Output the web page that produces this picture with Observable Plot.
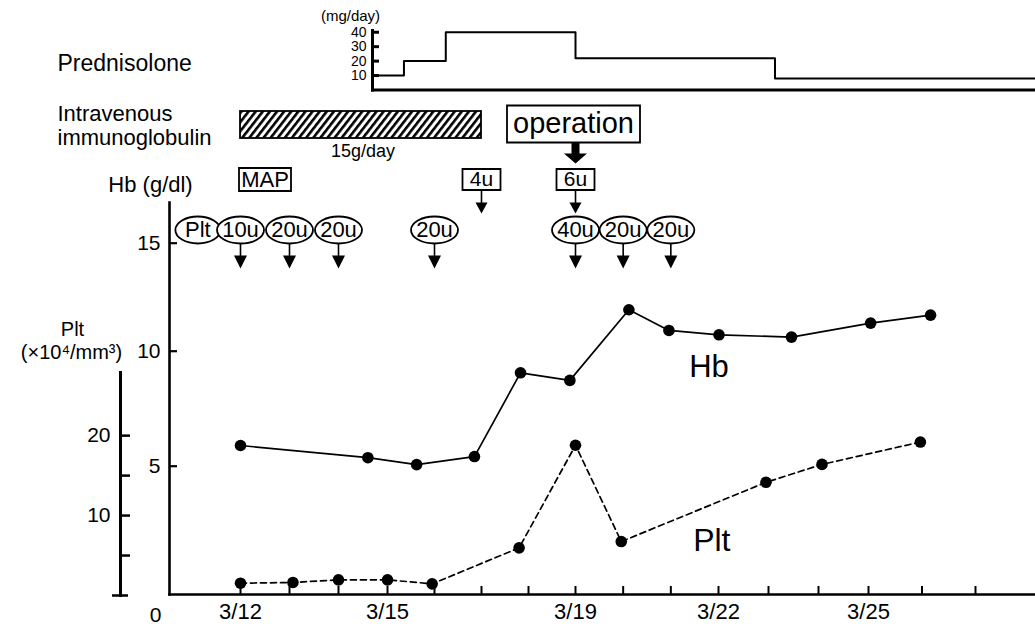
<!DOCTYPE html>
<html>
<head>
<meta charset="utf-8">
<script src="https://cdn.jsdelivr.net/npm/d3@7"></script>
<script src="https://cdn.jsdelivr.net/npm/@observablehq/plot@0.6"></script>
<style>
  body { margin: 0; background: #fff; }
  #fig { position: relative; width: 1035px; height: 626px; background: #fff; overflow: hidden; }
  #fig > svg { position: absolute; left: 0; top: 0; }
</style>
</head>
<body>
<div id="fig"></div>
<script>
// ---------------- data ----------------
const dayTicks = [12, 13, 14, 15, 16, 17, 18, 19, 20, 21, 22, 23, 24, 25, 26, 27];
const dayLabels = [12, 15, 19, 22, 25];

const hbDay   = [12, 14.6, 15.62, 16.85, 17.83, 18.88, 20.12, 20.96, 22.01, 23.46, 25.04, 26.16];
const hbValue = [5.9, 5.37, 5.07, 5.42, 9.06, 8.73, 11.92, 10.96, 10.76, 10.65, 11.3, 11.67];

const pltDay   = [12, 13.07, 14, 15, 15.95, 17.8, 19, 19.96, 22.95, 24.07, 25.97];
const pltValue = [1.54, 1.63, 1.96, 1.96, 1.46, 5.96, 18.8, 6.75, 14.16, 16.4, 19.2];

const predStart = [14.69, 15.35, 16.24, 19.0, 23.13];
const predDose  = [10, 20, 40, 22, 8];
const predEnd   = 28.2;

const ivigStart = 12, ivigEnd = 17, ivigLabel = "15g/day";
const operationDay = 19;
const rbcDay   = [17, 19];
const rbcUnits = ["4u", "6u"];
const pltTxDay   = [12, 13, 14, 16, 19, 20, 21];
const pltTxUnits = ["10u", "20u", "20u", "20u", "40u", "20u", "20u"];

const hbTicks = [5, 10, 15];
const pltTicks = [5, 10, 15, 20];
const predTicks = [10, 20, 30, 40];

// ---------------- helpers ----------------
const W = 1035, H = 626;
const FONT = "'Liberation Sans', Arial, Helvetica, sans-serif";
const xScale = {type: "linear", domain: [12, 15, 19, 22, 25, 27], range: [240, 387, 575, 718, 868, 975]};
const style = {fontFamily: FONT, background: "transparent", overflow: "visible", color: "black"};
const fig = document.getElementById("fig");

function boxSym(w, h) {
  return {draw(ctx) {
    ctx.moveTo(-w / 2, -h / 2); ctx.lineTo(w / 2, -h / 2);
    ctx.lineTo(w / 2, h / 2); ctx.lineTo(-w / 2, h / 2); ctx.closePath();
  }};
}
function ellipseSym(rx, ry) {
  const k = 0.5523;
  return {draw(ctx) {
    ctx.moveTo(rx, 0);
    ctx.bezierCurveTo(rx, ry * k, rx * k, ry, 0, ry);
    ctx.bezierCurveTo(-rx * k, ry, -rx, ry * k, -rx, 0);
    ctx.bezierCurveTo(-rx, -ry * k, -rx * k, -ry, 0, -ry);
    ctx.bezierCurveTo(rx * k, -ry, rx, -ry * k, rx, 0);
    ctx.closePath();
  }};
}
function arrowSym(stemW, stemL, headW, headL) {
  return {draw(ctx) {
    ctx.moveTo(-stemW / 2, 0); ctx.lineTo(stemW / 2, 0);
    ctx.lineTo(stemW / 2, stemL); ctx.lineTo(headW / 2, stemL);
    ctx.lineTo(0, stemL + headL); ctx.lineTo(-headW / 2, stemL);
    ctx.lineTo(-stemW / 2, stemL); ctx.closePath();
  }};
}
function panel(opts, marks, xAxisNull = true) {
  const svg = Plot.plot({
    width: W, height: H, marginLeft: 0, marginRight: 0,
    ...opts,
    x: {...xScale, ...(xAxisNull ? {axis: null} : {})},
    style, marks
  });
  fig.appendChild(svg);
  return svg;
}
// a free-standing label placed relative to a frame corner
function label(str, frameAnchor, dx, dy, fontSize, textAnchor = "middle") {
  return Plot.text([str], {text: d => d, frameAnchor, dx, dy, fontSize, textAnchor, lineAnchor: "middle"});
}

// ---------------- Prednisolone panel ----------------
const predData = predStart.map((d, i) => ({day: d, dose: predDose[i]}))
  .concat([{day: predEnd, dose: predDose[predDose.length - 1]}]);
panel({marginLeft: 372, marginTop: 30, marginBottom: H - 89.5, y: {domain: [0, 41.2], axis: null}}, [
  Plot.frame({anchor: "left", strokeWidth: 3}),
  Plot.frame({anchor: "bottom", strokeWidth: 3}),
  Plot.axisY({ticks: predTicks, tickSize: 7, dx: 7, tickPadding: 6, fontSize: 14, strokeWidth: 3, label: null}),
  Plot.line(predData, {x: "day", y: "dose", curve: "step-after", strokeWidth: 2}),
  label("(mg/day)", "top-left", -22, -14, 15),
  label("Prednisolone", "left", 57 - 372, 3, 23, "start")
]);

// ---------------- IVIG panel ----------------
const ivigSvg = panel({marginLeft: 57, marginTop: 111, marginBottom: H - 138}, [
  Plot.rect([{start: ivigStart, end: ivigEnd}], {x1: "start", x2: "end", fill: "url(#ivigHatch)", stroke: "black", strokeWidth: 1.8}),
  Plot.text([ivigLabel], {text: d => d, x: () => (ivigStart + ivigEnd) / 2, frameAnchor: "bottom", lineAnchor: "middle", dy: 13, fontSize: 18}),
  Plot.text(["Intravenous\nimmunoglobulin"], {text: d => d, frameAnchor: "left", textAnchor: "start", lineAnchor: "middle", lineHeight: 1.12, dy: 0, fontSize: 22})
]);
(function addHatch(svg) {
  const ns = "http://www.w3.org/2000/svg";
  const defs = document.createElementNS(ns, "defs");
  const pat = document.createElementNS(ns, "pattern");
  pat.setAttribute("id", "ivigHatch");
  pat.setAttribute("patternUnits", "userSpaceOnUse");
  pat.setAttribute("width", "5.6");
  pat.setAttribute("height", "10");
  pat.setAttribute("patternTransform", "rotate(38)");
  const bg = document.createElementNS(ns, "rect");
  bg.setAttribute("width", "5.6"); bg.setAttribute("height", "10"); bg.setAttribute("fill", "white");
  const ln = document.createElementNS(ns, "rect");
  ln.setAttribute("x", "0"); ln.setAttribute("width", "2.6"); ln.setAttribute("height", "10"); ln.setAttribute("fill", "black");
  pat.appendChild(bg); pat.appendChild(ln); defs.appendChild(pat);
  svg.insertBefore(defs, svg.firstChild);
})(ivigSvg);

// ---------------- operation panel ----------------
panel({marginTop: 105, marginBottom: H - 142}, [
  Plot.dot([operationDay], {x: d => d, dx: -2, symbol: boxSym(133, 37), r: 10, fill: "white", stroke: "black", strokeWidth: 1.8}),
  Plot.text([operationDay], {x: d => d, dx: -2, text: () => "operation", fontSize: 29}),
  Plot.dot([operationDay], {x: d => d, frameAnchor: "bottom", symbol: arrowSym(8, 11, 23, 10), r: 10, fill: "black", stroke: "none"})
]);

// ---------------- RBC (MAP) panel ----------------
panel({marginTop: 168, marginBottom: H - 190}, [
  Plot.dot([12.5], {x: d => d, symbol: boxSym(52, 23), r: 10, fill: "white", stroke: "black", strokeWidth: 1.8}),
  Plot.text([12.5], {x: d => d, text: () => "MAP", fontSize: 22}),
  Plot.dot(rbcDay, {x: d => d, symbol: boxSym(38, 21), r: 10, fill: "white", stroke: "black", strokeWidth: 1.8}),
  Plot.text(rbcDay, {x: d => d, text: (d, i) => rbcUnits[i], fontSize: 21}),
  Plot.dot(rbcDay, {x: d => d, frameAnchor: "bottom", symbol: arrowSym(1.6, 12, 12, 11), r: 10, fill: "black", stroke: "none"})
]);

// ---------------- platelet transfusion panel ----------------
panel({marginTop: 216, marginBottom: H - 243}, [
  Plot.dot([11.13], {x: d => d, symbol: ellipseSym(22.5, 13.5), r: 10, fill: "white", stroke: "black", strokeWidth: 1.8}),
  Plot.text([11.13], {x: d => d, text: () => "Plt", fontSize: 22}),
  Plot.dot(pltTxDay, {x: d => d, symbol: ellipseSym(23.5, 13.5), r: 10, fill: "white", stroke: "black", strokeWidth: 1.8}),
  Plot.text(pltTxDay, {x: d => d, text: (d, i) => pltTxUnits[i], fontSize: 22}),
  Plot.dot(pltTxDay, {x: d => d, frameAnchor: "bottom", symbol: arrowSym(1.6, 12, 13, 13), r: 10, fill: "black", stroke: "none"})
]);

// ---------------- Hb chart ----------------
const hbData = hbDay.map((d, i) => ({day: d, hb: hbValue[i]}));
panel({
  marginLeft: 169, marginTop: 202, marginBottom: 32,
  y: {type: "linear", domain: [5, 10, 15], range: [465.7, 350.7, 242.7], axis: null}
}, [
  Plot.frame({anchor: "left", strokeWidth: 2.6}),
  Plot.frame({anchor: "bottom", strokeWidth: 2.6}),
  Plot.axisY({ticks: hbTicks, tickSize: 8, dx: 8, tickPadding: 9, fontSize: 21, strokeWidth: 2.2, label: null}),
  Plot.axisX({ticks: dayTicks, tickSize: 8, dy: -8, tickPadding: 9, fontSize: 22, strokeWidth: 2, label: null,
              tickFormat: d => dayLabels.includes(d) ? `3/${d}` : ""}),
  Plot.line(hbData, {x: "day", y: "hb", strokeWidth: 1.7}),
  Plot.dot(hbData, {x: "day", y: "hb", r: 5.8, fill: "black", stroke: "none"}),
  Plot.text(["Hb"], {text: d => d, x: () => 21.8, y: () => 9.33, fontSize: 31}),
  label("Hb (g/dl)", "top-left", -19, -18, 22),
  label("0", "bottom-left", -14, 21, 21)
], false);

// ---------------- Plt chart ----------------
const pltData = pltDay.map((d, i) => ({day: d, plt: pltValue[i]}));
panel({
  marginLeft: 120, marginTop: 372, marginBottom: 31,
  y: {domain: [0, 27.9], axis: null}
}, [
  Plot.frame({anchor: "left", strokeWidth: 3}),
  Plot.axisY({ticks: pltTicks, tickSize: 10, dx: 10, tickPadding: 10, fontSize: 21, strokeWidth: 2.5, label: null,
              tickFormat: d => d % 10 === 0 ? d : ""}),
  Plot.axisY({ticks: [0], tickSize: 16, dx: 8, fontSize: 1, strokeWidth: 2.5, label: null, tickFormat: () => ""}),
  Plot.line(pltData, {x: "day", y: "plt", strokeWidth: 1.7, strokeDasharray: "6,4"}),
  Plot.dot(pltData, {x: "day", y: "plt", r: 5.8, fill: "black", stroke: "none"}),
  Plot.text(["Plt"], {text: d => d, x: () => 21.86, y: () => 6.9, fontSize: 32}),
  label("Plt", "top-left", -48, -43, 20),
  label("(×10⁴/mm³)", "top-left", -49, -20, 20)
]);
</script>
</body>
</html>
